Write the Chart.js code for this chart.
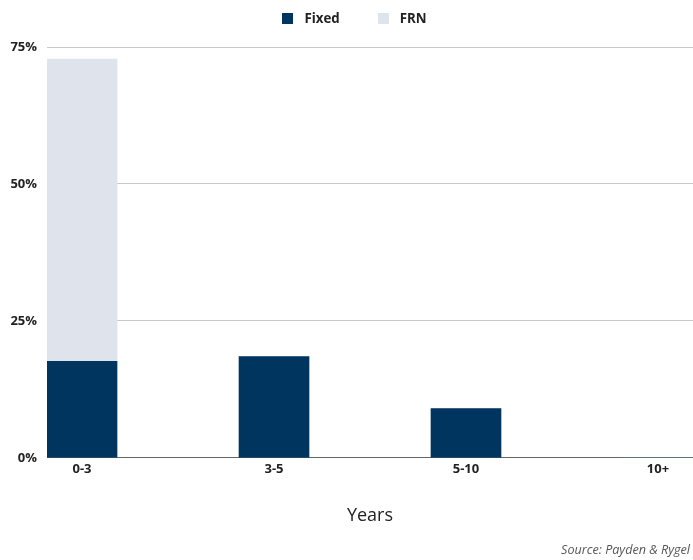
<!DOCTYPE html>
<html>
<head>
<meta charset="utf-8">
<script src="https://cdn.jsdelivr.net/npm/chart.js@4"></script>
<style>
  html, body { margin: 0; padding: 0; background: #fff; }
  #wrap { position: relative; width: 693px; height: 560px; }
  #source { position: absolute; right: 3px; top: 541px; font-family: 'Open Sans', sans-serif; font-style: italic; font-size: 12.6px; color: #555; }
  #legend { position: absolute; left: 8px; width: 693px; top: 9px; text-align: center; font-family: 'Open Sans', sans-serif; font-weight: bold; font-size: 13.3px; color: #222; white-space: nowrap; }
  #legend span.item { display: inline-block; margin: 0 19px; }
  #legend span.box { display: inline-block; width: 11px; height: 11px; margin-right: 11px; vertical-align: -1px; }
</style>
</head>
<body>
<div id="wrap">
  <canvas id="c" width="693" height="560"></canvas>
  <div id="legend"></div>
  <div id="source">Source: Payden &amp; Rygel</div>
</div>
<script>
const categories = ['0-3', '3-5', '5-10', '10+'];
const fixedValues = [17.6, 18.5, 9.0, 0];
const frnValues = [55.2, 0, 0, 0];
const yTicks = [0, 25, 50, 75];
const seriesNames = ['Fixed', 'FRN'];
const seriesColors = ['#00355f', '#dfe3eb'];

Chart.defaults.font.family = "'Open Sans', sans-serif";

const toPoints = arr => arr.map((v, i) => ({ x: i, y: v }));

const chart = new Chart(document.getElementById('c'), {
  type: 'bar',
  data: {
    datasets: [
      { label: seriesNames[0], data: toPoints(fixedValues), backgroundColor: seriesColors[0], barThickness: 70 },
      { label: seriesNames[1], data: toPoints(frnValues), backgroundColor: seriesColors[1], barThickness: 70 }
    ]
  },
  options: {
    responsive: false,
    animation: false,
    layout: { padding: { top: 47, bottom: 29, left: 0, right: 0 } },
    plugins: {
      legend: { display: false },
      tooltip: { enabled: false }
    },
    scales: {
      x: {
        type: 'linear',
        stacked: true,
        offset: false,
        min: -0.1824,
        max: 3.1824,
        afterBuildTicks: s => { s.ticks = categories.map((c, i) => ({ value: i })); },
        ticks: {
          callback: v => categories[v],
          color: '#222',
          font: { size: 13, weight: 'bold' },
          padding: 4,
          maxRotation: 0
        },
        grid: { display: false, drawTicks: false },
        border: { display: false },
        title: { display: true, text: 'Years', color: '#222', font: { size: 18 }, padding: { top: 24 } }
      },
      y: {
        stacked: true,
        min: 0, max: 75,
        afterBuildTicks: s => { s.ticks = yTicks.map(v => ({ value: v })); },
        afterFit: s => { s.width = 47; },
        ticks: {
          callback: v => v + '%',
          color: '#222',
          font: { size: 13, weight: 'bold' },
          padding: 10
        },
        grid: {
          color: ctx => ctx.tick && ctx.tick.value === 0 ? '#666' : '#c8c8c8',
          drawTicks: false,
          lineWidth: 1
        },
        border: { display: false }
      }
    }
  }
});

const legendEl = document.getElementById('legend');
chart.data.datasets.forEach(ds => {
  const item = document.createElement('span');
  item.className = 'item';
  const box = document.createElement('span');
  box.className = 'box';
  box.style.background = ds.backgroundColor;
  item.appendChild(box);
  item.appendChild(document.createTextNode(ds.label));
  legendEl.appendChild(item);
});
</script>
</body>
</html>
